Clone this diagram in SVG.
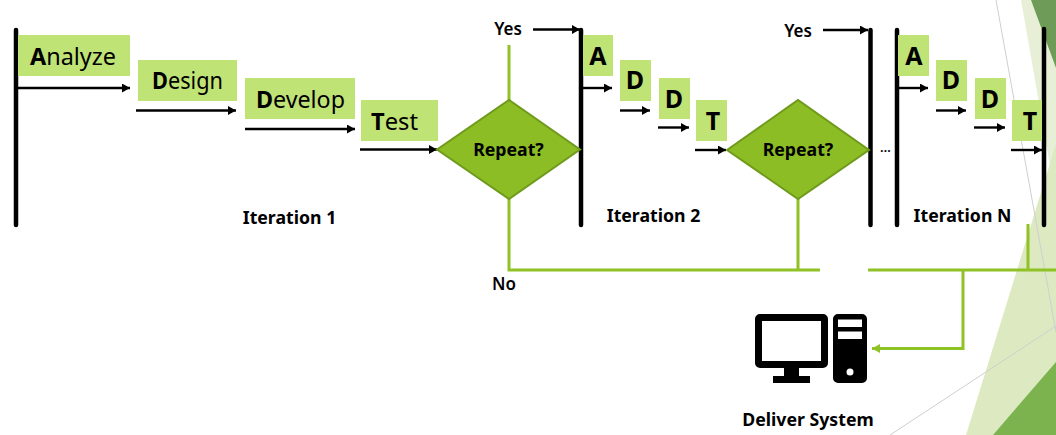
<svg xmlns="http://www.w3.org/2000/svg" width="1056" height="435" viewBox="0 0 1056 435">
<style>
text{font-family:"Noto Sans","Open Sans","Liberation Sans",sans-serif;fill:#000}
.big{font-size:24px}
.ltr{font-size:25px;font-weight:700;text-anchor:middle}
.lbl{font-size:17.700px;font-weight:700;text-anchor:middle}
.yn{font-size:17px;font-weight:600;text-anchor:middle}
.box{fill:#c0e376}
.bar{stroke:#000;stroke-width:4.500;stroke-linecap:round;fill:none}
.arr{stroke:#000;stroke-width:2.400;fill:none;marker-end:url(#ah)}
.grn{stroke:#8fc225;stroke-width:3;fill:none}
.dia{fill:#8dbd25;stroke:#6f9a1c;stroke-width:2}
.thin{stroke:#cfcfcf;stroke-width:1;fill:none}
</style>
<defs>
<marker id="ah" markerUnits="userSpaceOnUse" markerWidth="9" markerHeight="9" refX="8" refY="4.500" orient="auto"><path d="M0 0L8 4.500L0 9Z" fill="#000"/></marker>
<marker id="gh" markerUnits="userSpaceOnUse" markerWidth="9" markerHeight="9" refX="8" refY="4.500" orient="auto"><path d="M0 0L8 4.500L0 9Z" fill="#8fc225"/></marker>
</defs>
<g id="background">
<polygon points="1021,0 1056,0 1056,200" fill="#e7f0d6"/>
<polygon points="1056,144 966,435 1056,435" fill="#dce9c1"/>
<polygon points="1056,362 993,435 1056,435" fill="#7cb34f"/>
<polygon points="1031,0 1056,0 1056,68" fill="#6f9b58"/>
<path class="thin" d="M996 0L1056 332"/>
<path class="thin" d="M890 435L1056 326"/>
</g>
<g id="connectors">
<path class="grn" d="M509 45V100M509 199V270H820M798 199V270M868 270H1056M1028 224V270"/>
<path class="grn" d="M963 270V348.500H872" marker-end="url(#gh)"/>
<path class="arr" d="M18 88H130"/>
<path class="arr" d="M136 110.500H236"/>
<path class="arr" d="M245 129H355"/>
<path class="arr" d="M360 149.500H437"/>
<path class="arr" d="M533 29.500H580"/>
<path class="arr" d="M583 88H612"/>
<path class="arr" d="M620 110.500H650"/>
<path class="arr" d="M658 127.500H689"/>
<path class="arr" d="M695 150H726"/>
<path class="arr" d="M823 30H868"/>
<path class="arr" d="M899 88H928"/>
<path class="arr" d="M936 110.500H966"/>
<path class="arr" d="M974 127.500H1005"/>
<path class="arr" d="M1011 150H1042"/>
</g>
<g id="bar-1"><path class="bar" d="M16 30V225"/></g>
<g id="bar-2"><path class="bar" d="M581 30V225"/></g>
<g id="bar-3"><path class="bar" d="M870.500 30V225"/></g>
<g id="bar-4"><path class="bar" d="M897 30V225"/></g>
<g id="bar-5"><path class="bar" d="M1044 29V225"/></g>
<g id="analyze"><rect class="box" x="18" y="35" width="112" height="41"/><text class="big" x="30" y="65" textLength="86" lengthAdjust="spacingAndGlyphs"><tspan font-weight="700">A</tspan>nalyze</text></g>
<g id="design"><rect class="box" x="138" y="60" width="99" height="41"/><text class="big" x="152" y="89" textLength="71" lengthAdjust="spacingAndGlyphs"><tspan font-weight="700">D</tspan>esign</text></g>
<g id="develop"><rect class="box" x="245" y="78" width="110" height="41"/><text class="big" x="256" y="108" textLength="89" lengthAdjust="spacingAndGlyphs"><tspan font-weight="700">D</tspan>evelop</text></g>
<g id="test"><rect class="box" x="361" y="100" width="77" height="41"/><text class="big" x="371" y="130" textLength="47" lengthAdjust="spacingAndGlyphs"><tspan font-weight="700">T</tspan>est</text></g>
<g id="repeat-1"><polygon class="dia" points="437,149.500 509,100 580,149.500 509,199"/><text class="lbl" x="508.500" y="156">Repeat?</text></g>
<g id="a-2"><rect class="box" x="583" y="35" width="30" height="41"/><text class="ltr" x="598" y="65">A</text></g>
<g id="d-2a"><rect class="box" x="620" y="60" width="31" height="41"/><text class="ltr" x="635" y="89">D</text></g>
<g id="d-2b"><rect class="box" x="659" y="78" width="31" height="41"/><text class="ltr" x="674" y="108">D</text></g>
<g id="t-2"><rect class="box" x="696" y="100" width="31" height="41"/><text class="ltr" x="713" y="130">T</text></g>
<g id="repeat-2"><polygon class="dia" points="727,150 798,100 869,150 798,199"/><text class="lbl" x="798" y="156">Repeat?</text></g>
<g id="a-n"><rect class="box" x="898" y="35" width="31" height="41"/><text class="ltr" x="914" y="65">A</text></g>
<g id="d-na"><rect class="box" x="936" y="60" width="31" height="41"/><text class="ltr" x="951" y="89">D</text></g>
<g id="d-nb"><rect class="box" x="975" y="78" width="31" height="41"/><text class="ltr" x="990" y="108">D</text></g>
<g id="t-n"><rect class="box" x="1012" y="100" width="30" height="41"/><text class="ltr" x="1030" y="130">T</text></g>
<g id="labels">
<text class="yn" x="508" y="35">Yes</text>
<text class="yn" x="798" y="37">Yes</text>
<text class="yn" x="504" y="290">No</text>
<text class="yn" x="885.500" y="152" style="font-size:13px">…</text>
<text class="lbl" x="289.500" y="224">Iteration 1</text>
<text class="lbl" x="653.500" y="222">Iteration 2</text>
<text class="lbl" x="962.500" y="222">Iteration N</text>
<text class="lbl" x="808" y="426">Deliver System</text>
</g>
<g id="deliver-system">
<path fill-rule="evenodd" d="M760 314H823a5 5 0 0 1 5 5V363a5 5 0 0 1-5 5H799V376H810V383H773V376H784V368H760a5 5 0 0 1-5-5V319a5 5 0 0 1 5-5ZM762 321V361H821V321Z"/>
<path fill-rule="evenodd" d="M838 314H862a5 5 0 0 1 5 5V378a5 5 0 0 1-5 5H838a5 5 0 0 1-5-5V319a5 5 0 0 1 5-5ZM838 319.500V327H862V319.500ZM838 331.500V339H862V331.500Z"/>
<circle cx="850" cy="372" r="3.500" fill="#fff"/>
</g>
</svg>
